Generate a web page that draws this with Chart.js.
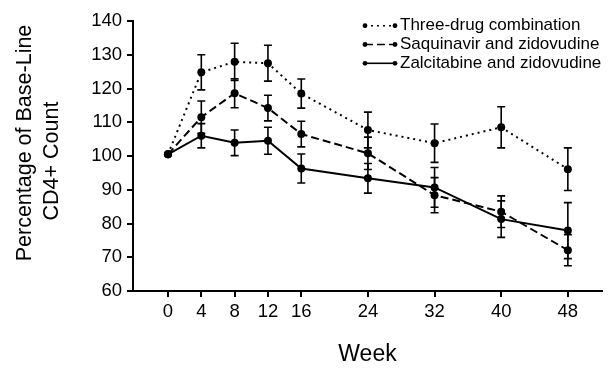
<!DOCTYPE html>
<html>
<head>
<meta charset="utf-8">
<script src="https://cdn.jsdelivr.net/npm/chart.js@4.4.1/dist/chart.umd.min.js"></script>
<style>
  body { margin: 0; background: #fff; }
  #wrap { width: 616px; height: 368px; }
</style>
</head>
<body>
<div id="wrap"><canvas id="cd4Chart" width="616" height="368"></canvas></div>
<script>
// values (percent of base-line CD4+ count, mean and error)
const weeks = [0, 4, 8, 12, 16, 24, 32, 40, 48]
const threeDrug    = [100.5, 124.8, 127.9, 127.5, 118.5, 107.7, 103.8, 108.5, 96.1]
const threeDrugErr = [0, 5.2, 5.5, 5.3, 4.3, 5.3, 5.7, 6.1, 6.3]
const saqZdv    = [100.5, 111.5, 118.6, 114.2, 106.5, 100.8, 88.4, 83.5, 72.1]
const saqZdvErr = [0, 4.8, 4.3, 3.8, 3.8, 4.8, 5.2, 4.7, 4.6]
const zalZdv    = [100.5, 106.0, 103.9, 104.5, 96.3, 93.4, 90.7, 81.3, 77.9]
const zalZdvErr = [0, 3.6, 3.8, 4.0, 4.3, 4.4, 5.9, 5.4, 8.3]
const seriesNames = ['Three-drug combination', 'Saquinavir and zidovudine', 'Zalcitabine and zidovudine']
const xTicks = [0, 4, 8, 12, 16, 24, 32, 40, 48]
const yTitle = ['Percentage of Base-Line', 'CD4+ Count']
const xTitle = 'Week'

const FONT = '"Liberation Sans", Arial, Helvetica, sans-serif'
const dashes = [[2, 4], [8, 4], []]

function toPoints(vals) {
    return weeks.map((w, i) => ({ x: w, y: vals[i] }))
}

const errors = [threeDrugErr, saqZdvErr, zalZdvErr]

// error bars drawn under the points
const errorBars = {
    id: 'errorBars',
    beforeDatasetsDraw(chart) {
        const ctx = chart.ctx
        const yScale = chart.scales.y
        ctx.save()
        ctx.strokeStyle = '#000'
        ctx.lineWidth = 1.6
        chart.data.datasets.forEach((ds, d) => {
            const meta = chart.getDatasetMeta(d)
            meta.data.forEach((pt, i) => {
                const e = errors[d][i]
                if (!e) return
                const v = ds.data[i].y
                const top = yScale.getPixelForValue(v + e)
                const bot = yScale.getPixelForValue(v - e)
                ctx.beginPath()
                ctx.moveTo(pt.x, top); ctx.lineTo(pt.x, bot)
                ctx.moveTo(pt.x - 4, top); ctx.lineTo(pt.x + 4, top)
                ctx.moveTo(pt.x - 4, bot); ctx.lineTo(pt.x + 4, bot)
                ctx.stroke()
            })
        })
        ctx.restore()
    }
}

// legend in the top right corner + the two-line y title
const extras = {
    id: 'extras',
    afterDraw(chart) {
        const ctx = chart.ctx
        const area = chart.chartArea
        ctx.save()
        ctx.fillStyle = '#000'
        ctx.strokeStyle = '#000'

        // legend
        ctx.font = '17px ' + FONT
        ctx.textAlign = 'left'
        ctx.textBaseline = 'middle'
        seriesNames.forEach((name, i) => {
            const y = area.top + 4.7 + i * 18.8
            const x0 = area.right - 237, x1 = area.right - 207
            ctx.lineWidth = 1.6
            ctx.setLineDash(dashes[i])
            ctx.beginPath()
            ctx.moveTo(x0, y); ctx.lineTo(x1, y)
            ctx.stroke()
            ctx.setLineDash([])
            ctx.beginPath(); ctx.arc(x0, y, 2.4, 0, Math.PI * 2); ctx.fill()
            ctx.beginPath(); ctx.arc(x1, y, 2.4, 0, Math.PI * 2); ctx.fill()
            ctx.fillText(name, x1 + 5, y)
        })

        // y axis title
        ctx.font = '21.5px ' + FONT
        ctx.textAlign = 'center'
        const mid = (area.top + area.bottom) / 2
        const pos = [[25.5, mid - 13], [52.5, mid + 5]]
        yTitle.forEach((line, i) => {
            ctx.save()
            ctx.translate(pos[i][0], pos[i][1])
            ctx.rotate(-Math.PI / 2)
            ctx.fillText(line, 0, 0)
            ctx.restore()
        })
        ctx.restore()
    }
}

const ctx = document.getElementById('cd4Chart').getContext('2d')
const cd4Chart = new Chart(ctx, {
    type: 'line',
    data: {
        datasets: [threeDrug, saqZdv, zalZdv].map((vals, i) => ({
            label: seriesNames[i],
            data: toPoints(vals),
            borderColor: '#000',
            borderWidth: 2,
            borderDash: dashes[i],
            backgroundColor: '#000',
            pointRadius: 4,
            pointBorderWidth: 0,
            pointBackgroundColor: '#000',
            tension: 0,
            fill: false
        }))
    },
    options: {
        responsive: false,
        animation: false,
        layout: {
            padding: { top: 21, right: 14, left: 0, bottom: 0 }
        },
        plugins: {
            legend: { display: false },
            tooltip: { enabled: false }
        },
        scales: {
            x: {
                type: 'linear',
                min: -4.2,
                max: 52.1,
                afterBuildTicks: (axis) => {
                    axis.ticks = xTicks.map(v => ({ value: v }))
                },
                afterFit: (scale) => { scale.height = 77 },
                border: { display: true, color: '#000', width: 2 },
                grid: { drawOnChartArea: false, drawTicks: true, tickLength: 6, tickColor: '#000', lineWidth: 2 },
                ticks: {
                    color: '#000',
                    padding: 4,
                    maxRotation: 0,
                    font: { family: FONT, size: 18.5 }
                },
                title: {
                    display: true,
                    text: xTitle,
                    color: '#000',
                    padding: { top: 0, bottom: 0 },
                    font: { family: FONT, size: 23 }
                }
            },
            y: {
                min: 60,
                max: 140,
                afterFit: (scale) => { scale.width = 133 },
                border: { display: true, color: '#000', width: 2 },
                grid: { drawOnChartArea: false, drawTicks: true, tickLength: 6, tickColor: '#000', lineWidth: 2 },
                ticks: {
                    stepSize: 10,
                    color: '#000',
                    padding: 5,
                    font: { family: FONT, size: 18.5 }
                }
            }
        }
    },
    plugins: [errorBars, extras]
})
</script>
</body>
</html>
